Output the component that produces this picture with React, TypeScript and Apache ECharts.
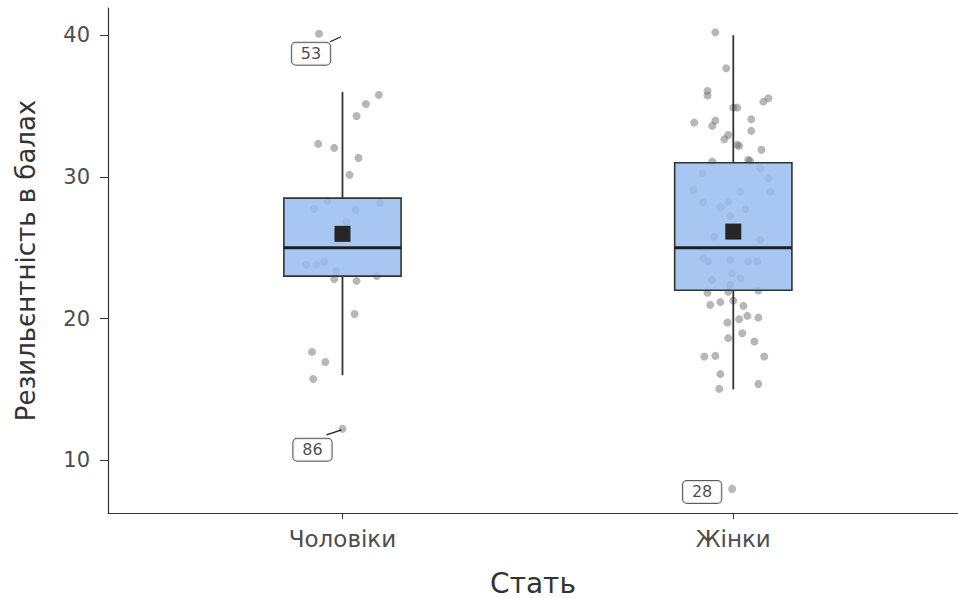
import React, { useEffect, useRef } from "react";
import * as echarts from "echarts";

const categories = ["Чоловіки", "Жінки"];
const yTicks = [10, 20, 30, 40];

// Box statistics: [group, lower whisker, Q1, median, Q3, upper whisker, mean]
const boxStats = [
  [1, 16, 23, 25, 28.5, 36, 25.98],
  [2, 15, 22, 25, 31, 40, 26.14],
];

// Jittered observations (value, horizontal jitter in category units)
const menValues = [35.79, 35.15, 34.3, 32.33, 32.05, 31.34, 30.14, 28.31, 28.17, 27.74, 27.67, 26.82, 23.79, 23.79, 24.0, 23.37, 22.8, 22.66, 23.01, 20.33, 17.65, 16.94, 15.74];
const menJitter = [0.093, 0.06, 0.036, -0.062, -0.021, 0.041, 0.018, -0.039, 0.096, -0.073, 0.034, 0.01, -0.093, -0.067, -0.047, -0.016, -0.021, 0.036, 0.088, 0.031, -0.078, -0.044, -0.075];

const womenValues = [40.2, 37.67, 36.07, 35.75, 35.31, 35.55, 34.89, 34.89, 33.83, 33.97, 33.6, 34.07, 33.25, 32.96, 32.66, 32.26, 32.19, 31.91, 31.08, 31.2, 31.13, 30.26, 30.61, 29.91, 29.08, 28.96, 28.96, 28.19, 28.26, 27.86, 27.72, 27.25, 25.79, 25.55, 24.26, 24.02, 24.14, 24.02, 24.02, 23.2, 22.73, 22.85, 22.38, 21.83, 21.9, 21.98, 20.97, 21.16, 21.27, 20.9, 20.19, 19.96, 20.07, 19.72, 18.97, 18.62, 18.38, 17.32, 17.37, 17.32, 16.08, 15.04, 15.39];
const womenJitter = [-0.046, -0.018, -0.066, -0.066, 0.077, 0.09, 0.0, 0.01, -0.1, -0.046, -0.054, 0.046, 0.046, -0.013, -0.023, 0.01, 0.015, 0.072, -0.054, 0.038, 0.043, -0.079, 0.069, 0.09, -0.102, 0.018, 0.095, -0.077, -0.013, -0.033, 0.031, -0.008, -0.049, 0.069, -0.077, -0.064, -0.008, 0.038, 0.061, -0.003, -0.054, 0.018, -0.008, -0.066, -0.013, 0.064, -0.059, -0.033, 0.0, 0.026, 0.036, 0.015, 0.064, -0.015, 0.023, -0.013, 0.054, -0.074, -0.046, 0.079, -0.033, -0.036, 0.064];

// Labelled outliers
const outlierGroups = [1, 1, 2];
const outlierValues = [40.1, 12.22, 7.98];
const outlierJitter = [-0.06, 0.0, -0.003];
const outlierIds = ["53", "86", "28"];

const FONT = "'DejaVu Sans', Verdana, sans-serif";

export default function App() {
  const ref = useRef<HTMLDivElement>(null);

  useEffect(() => {
    if (!ref.current) return;
    const chart = echarts.init(ref.current, null, { renderer: "svg" });

    const pointColor = "rgba(105,105,105,0.6)";
    const menPts = menValues.map((v, i) => [1 + menJitter[i], v]);
    const womenPts = womenValues.map((v, i) => [2 + womenJitter[i], v]);
    const labelOffsets: Record<string, number[]> = { "53": [-8, 20], "86": [-30, 21], "28": [-30, 3] };
    const outPts = outlierValues.map((v, i) => ({
      value: [outlierGroups[i] + outlierJitter[i], v],
      name: outlierIds[i],
      label: { offset: labelOffsets[outlierIds[i]] },
    }));

    chart.setOption({
      animation: false,
      grid: { left: 108, right: 0, top: 8, bottom: 85, outerBoundsMode: "none" },
      xAxis: {
        type: "value",
        min: 0.4,
        max: 2.575,
        name: "Стать",
        nameLocation: "middle",
        nameGap: 56,
        nameTextStyle: { fontFamily: FONT, fontSize: 28, color: "#333" },
        axisLine: { show: true, lineStyle: { color: "#333", width: 1.2 } },
        axisTick: { show: true, customValues: [1, 2], length: 6, lineStyle: { color: "#333" } },
        axisLabel: {
          customValues: [1, 2],
          formatter: (v: number) => categories[Math.round(v) - 1] ?? "",
          fontFamily: FONT,
          fontSize: 23,
          color: "#4d4d4d",
          margin: 14,
        },
        splitLine: { show: false },
      },
      yAxis: {
        type: "value",
        min: 6.28,
        max: 41.92,
        name: "Резильєнтність в балах",
        nameLocation: "middle",
        nameGap: 69,
        nameTextStyle: { fontFamily: FONT, fontSize: 26, color: "#333" },
        axisLine: { show: true, lineStyle: { color: "#333", width: 1.2 } },
        axisTick: { show: true, customValues: yTicks, length: 8, lineStyle: { color: "#333" } },
        axisLabel: {
          customValues: yTicks,
          fontFamily: FONT,
          fontSize: 21,
          color: "#4d4d4d",
          margin: 18,
        },
        splitLine: { show: false },
      },
      series: [
        {
          type: "scatter",
          data: [...menPts, ...womenPts],
          symbolSize: 8,
          itemStyle: { color: pointColor },
          z: 2,
        },
        {
          type: "scatter",
          data: outPts,
          symbolSize: 8,
          itemStyle: { color: pointColor },
          z: 5,
          label: {
            show: true,
            position: "inside",
            formatter: (p: any) => p.name,
            fontFamily: FONT,
            fontSize: 16,
            color: "#1a1a1a",
            backgroundColor: "#fff",
            borderColor: "#333",
            borderWidth: 1,
            borderRadius: 4,
            padding: [4, 9, 2, 9],
          },
        },
        {
          type: "custom",
          z: 3,
          data: boxStats,
          renderItem: (params: any, api: any) => {
            const x = api.value(0);
            const low = api.value(1), q1 = api.value(2), med = api.value(3), q3 = api.value(4), high = api.value(5), mean = api.value(6);
            const halfW = api.size([0.15, 0])[0];
            const pLow = api.coord([x, low]);
            const pQ1 = api.coord([x, q1]);
            const pMed = api.coord([x, med]);
            const pQ3 = api.coord([x, q3]);
            const pHigh = api.coord([x, high]);
            const pMean = api.coord([x, mean]);
            const cx = pMed[0];
            const stroke = "#333";
            const sq = 16;
            return {
              type: "group",
              children: [
                { type: "line", shape: { x1: cx, y1: pLow[1], x2: cx, y2: pQ1[1] }, style: { stroke, lineWidth: 1.8 } },
                { type: "line", shape: { x1: cx, y1: pQ3[1], x2: cx, y2: pHigh[1] }, style: { stroke, lineWidth: 1.8 } },
                {
                  type: "rect",
                  shape: { x: cx - halfW, y: pQ3[1], width: halfW * 2, height: pQ1[1] - pQ3[1] },
                  style: { fill: "rgba(152,188,240,0.85)", stroke, lineWidth: 1.6 },
                },
                { type: "line", shape: { x1: cx - halfW, y1: pMed[1], x2: cx + halfW, y2: pMed[1] }, style: { stroke: "#1f1f1f", lineWidth: 3 } },
                {
                  type: "rect",
                  shape: { x: cx - sq / 2, y: pMean[1] - sq / 2, width: sq, height: sq },
                  style: { fill: "#262626" },
                },
              ],
            };
          },
        },
      ],
    });

    // connector segments of the repelled labels
    const seg = (i: number, a: number[], b: number[]) => {
      const p = chart.convertToPixel({ xAxisIndex: 0, yAxisIndex: 0 }, [outlierGroups[i] + outlierJitter[i], outlierValues[i]]) as number[];
      return {
        type: "line",
        shape: { x1: p[0] + a[0], y1: p[1] + a[1], x2: p[0] + b[0], y2: p[1] + b[1] },
        style: { stroke: "#1a1a1a", lineWidth: 1.2 },
        z: 10,
      };
    };
    chart.setOption({
      graphic: [seg(0, [11, 8], [22, 3]), seg(1, [-16, 6], [-1, 1])],
    });

    return () => chart.dispose();
  }, []);

  return <div ref={ref} style={{ width: 958, height: 598, position: "absolute", left: 0, top: 0 }} />;
}
